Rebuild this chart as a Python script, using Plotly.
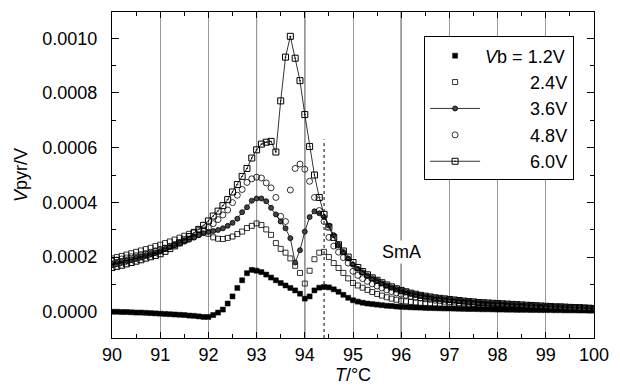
import plotly.graph_objects as go

# Temperature grid (°C), 0.1 °C steps
T = [round(90 + 0.1 * i, 1) for i in range(101)]

# Pyroelectric voltage, in units of 1e-4 V
v12 = [0.00, 0.00, -0.01, -0.01, -0.02, -0.03, -0.03, -0.04, -0.05, -0.06,
       -0.07, -0.08, -0.09, -0.10, -0.11, -0.12, -0.14, -0.15, -0.17, -0.19,
       -0.19, -0.12, -0.03, 0.08, 0.30, 0.56, 0.87, 1.15, 1.41, 1.53,
       1.50, 1.45, 1.36, 1.25, 1.15, 1.05, 0.96, 0.87, 0.78, 0.66,
       0.48, 0.56, 0.78, 0.88, 0.91, 0.89, 0.82, 0.73, 0.62, 0.51,
       0.42, 0.37, 0.33, 0.30, 0.28, 0.26, 0.24, 0.22, 0.21, 0.19,
       0.18, 0.17, 0.16, 0.155, 0.15, 0.14, 0.135, 0.13, 0.125, 0.12,
       0.12, 0.115, 0.11, 0.105, 0.10, 0.10, 0.095, 0.09, 0.09, 0.085,
       0.08, 0.08, 0.075, 0.075, 0.07, 0.07, 0.07, 0.065, 0.065, 0.06,
       0.06, 0.06, 0.055, 0.055, 0.05, 0.05, 0.05, 0.045, 0.045, 0.04,
       0.04]
v24 = [1.95, 2.00, 2.04, 2.09, 2.14, 2.19, 2.24, 2.29, 2.34, 2.40,
       2.45, 2.51, 2.57, 2.64, 2.71, 2.78, 2.85, 2.92, 2.98, 3.00,
       2.85, 2.72, 2.67, 2.66, 2.70, 2.75, 2.84, 2.93, 3.06, 3.14,
       3.23, 3.17, 3.01, 2.81, 2.51, 2.30, 2.16, 1.95, 1.68, 1.42,
       1.03, 1.50, 1.92, 2.16, 2.19, 2.00, 1.78, 1.60, 1.42, 1.22,
       1.05, 0.96, 0.88, 0.80, 0.72, 0.65, 0.59, 0.53, 0.48, 0.44,
       0.40, 0.38, 0.36, 0.34, 0.32, 0.31, 0.29, 0.28, 0.27, 0.26,
       0.25, 0.24, 0.23, 0.22, 0.21, 0.21, 0.20, 0.19, 0.18, 0.18,
       0.17, 0.17, 0.16, 0.16, 0.15, 0.15, 0.14, 0.14, 0.14, 0.13,
       0.13, 0.13, 0.12, 0.12, 0.12, 0.11, 0.11, 0.11, 0.10, 0.10,
       0.10]
v36 = [1.75, 1.79, 1.83, 1.88, 1.92, 1.97, 2.02, 2.07, 2.12, 2.17,
       2.22, 2.29, 2.36, 2.43, 2.51, 2.58, 2.65, 2.72, 2.80, 2.87,
       2.92, 2.95, 2.99, 3.05, 3.14, 3.25, 3.40, 3.64, 3.82, 4.06,
       4.14, 4.14, 4.04, 3.80, 3.56, 3.30, 3.05, 2.69, 1.80, 2.25,
       2.93, 3.46, 3.67, 3.60, 3.46, 3.15, 2.80, 2.45, 2.18, 1.95,
       1.72, 1.57, 1.44, 1.32, 1.22, 1.13, 1.04, 0.96, 0.89, 0.83,
       0.77, 0.72, 0.67, 0.63, 0.59, 0.56, 0.53, 0.50, 0.48, 0.46,
       0.44, 0.42, 0.40, 0.38, 0.37, 0.35, 0.34, 0.32, 0.31, 0.30,
       0.29, 0.28, 0.27, 0.26, 0.25, 0.24, 0.23, 0.22, 0.21, 0.20,
       0.19, 0.18, 0.18, 0.17, 0.16, 0.15, 0.15, 0.14, 0.13, 0.13,
       0.12]
v48 = [1.85, 1.89, 1.93, 1.97, 2.01, 2.05, 2.09, 2.13, 2.18, 2.23,
       2.28, 2.33, 2.39, 2.45, 2.51, 2.58, 2.65, 2.73, 2.82, 2.94,
       3.08, 3.22, 3.37, 3.54, 3.72, 3.99, 4.26, 4.47, 4.73, 4.86,
       4.92, 4.89, 4.71, 4.53, 4.18, 3.49, 3.30, 4.45, 5.24, 5.40,
       5.21, 4.77, 4.18, 3.70, 3.30, 2.72, 2.40, 2.18, 1.98, 1.78,
       1.48, 1.33, 1.21, 1.11, 1.02, 0.94, 0.87, 0.80, 0.74, 0.69,
       0.64, 0.60, 0.56, 0.53, 0.50, 0.47, 0.45, 0.42, 0.40, 0.38,
       0.36, 0.35, 0.33, 0.32, 0.31, 0.29, 0.28, 0.27, 0.26, 0.25,
       0.24, 0.23, 0.22, 0.22, 0.21, 0.20, 0.19, 0.19, 0.18, 0.17,
       0.17, 0.16, 0.16, 0.15, 0.15, 0.14, 0.14, 0.13, 0.13, 0.12,
       0.12]
v60 = [1.62, 1.66, 1.70, 1.75, 1.80, 1.85, 1.90, 1.96, 2.01, 2.06,
       2.12, 2.21, 2.31, 2.41, 2.52, 2.63, 2.75, 2.88, 3.01, 3.16,
       3.32, 3.50, 3.68, 3.88, 4.10, 4.38, 4.65, 4.95, 5.24, 5.62,
       5.92, 6.13, 6.20, 6.23, 5.84, 7.71, 9.31, 10.07, 9.27, 8.45,
       7.21, 6.04, 5.00, 4.18, 3.56, 3.10, 2.72, 2.45, 2.22, 2.00,
       1.80, 1.62, 1.47, 1.35, 1.24, 1.15, 1.06, 0.98, 0.91, 0.84,
       0.78, 0.73, 0.68, 0.64, 0.60, 0.57, 0.54, 0.51, 0.49, 0.47,
       0.45, 0.43, 0.41, 0.39, 0.37, 0.36, 0.34, 0.33, 0.32, 0.31,
       0.30, 0.29, 0.28, 0.27, 0.26, 0.25, 0.24, 0.23, 0.22, 0.21,
       0.20, 0.19, 0.18, 0.18, 0.17, 0.16, 0.15, 0.15, 0.14, 0.13,
       0.12]

UNIT = 1e-4
legend_names = ["<i>V</i>b = 1.2V",
                "\u00a0" * 9 + "2.4V",
                "\u00a0" * 9 + "3.6V",
                "\u00a0" * 9 + "4.8V",
                "\u00a0" * 9 + "6.0V"]
x_ticks = list(range(90, 101))
y_ticks = [0.0, 0.0002, 0.0004, 0.0006, 0.0008, 0.0010]
dark_lines = [93, 94, 96]
dotted_T = 94.4
dotted_top = 0.00063
sma_T, sma_V = 96, 0.00022

FONT = "Liberation Sans, Arial, sans-serif"

fig = go.Figure()

def sc(v):
    return [a * UNIT for a in v]

fig.add_trace(go.Scatter(x=T, y=sc(v12), mode="markers", name=legend_names[0],
                         marker=dict(symbol="square", size=5, color="black",
                                     line=dict(color="black", width=0.5))))
fig.add_trace(go.Scatter(x=T, y=sc(v24), mode="markers", name=legend_names[1],
                         marker=dict(symbol="square-open", size=5, color="black",
                                     line=dict(width=0.8))))
fig.add_trace(go.Scatter(x=T, y=sc(v36), mode="lines+markers", name=legend_names[2],
                         line=dict(color="black", width=0.8),
                         marker=dict(symbol="circle", size=5, color="#444",
                                     line=dict(color="black", width=0.8))))
fig.add_trace(go.Scatter(x=T, y=sc(v48), mode="markers", name=legend_names[3],
                         marker=dict(symbol="circle-open", size=6, color="black",
                                     line=dict(width=0.8))))
fig.add_trace(go.Scatter(x=T, y=sc(v60), mode="lines+markers", name=legend_names[4],
                         line=dict(color="black", width=0.8),
                         marker=dict(symbol="square-open-dot", size=6, color="black",
                                     line=dict(color="black", width=1))))

shapes = []
for xv in dark_lines:
    shapes.append(dict(type="line", xref="x", yref="paper", x0=xv, x1=xv, y0=0, y1=1,
                       line=dict(color="black", width=1), layer="below"))
shapes.append(dict(type="line", xref="x", yref="y", x0=dotted_T, x1=dotted_T,
                   y0=-0.000096, y1=dotted_top,
                   line=dict(color="black", width=1, dash="dot"), layer="below"))

fig.update_layout(
    width=620, height=390,
    margin=dict(l=112, r=20, t=11, b=44),
    paper_bgcolor="white", plot_bgcolor="white",
    font=dict(family=FONT, size=18, color="black"),
    shapes=shapes,
    showlegend=True,
    legend=dict(x=0.6475, y=0.925, xanchor="left", yanchor="top",
                bgcolor="white", bordercolor="black", borderwidth=1,
                font=dict(family=FONT, size=18, color="black"),
                itemwidth=50, tracegroupgap=0),
    annotations=[dict(x=sma_T, y=sma_V, xref="x", yref="y", text="SmA",
                      showarrow=False, bgcolor="white",
                      font=dict(family=FONT, size=18, color="black"))],
)

fig.update_xaxes(
    range=[90, 100], tickvals=x_ticks, ticktext=[str(v) for v in x_ticks],
    showline=True, linecolor="black", linewidth=1, mirror="ticks",
    ticks="inside", ticklen=6, tickcolor="black",
    showgrid=True, gridcolor="#999", gridwidth=1, zeroline=False,
    minor=dict(dtick=0.5, ticks="inside", ticklen=4, tickcolor="black", showgrid=False),
    title=dict(text="<i>T</i>/°C", standoff=2, font=dict(family=FONT, size=18)),
    tickfont=dict(family=FONT, size=18),
)
fig.update_yaxes(
    range=[-0.000096, 0.001096], tickvals=y_ticks, tickformat=".4f",
    showline=True, linecolor="black", linewidth=1, mirror="ticks",
    ticks="inside", ticklen=7, tickcolor="black",
    showgrid=False, zeroline=False,
    minor=dict(dtick=0.0001, ticks="inside", ticklen=4, tickcolor="black", showgrid=False),
    title=dict(text="<i>V</i>pyr/V", standoff=10, font=dict(family=FONT, size=18)),
    tickfont=dict(family=FONT, size=18),
    ticklabelstandoff=10,
)

fig.write_html("out.html")
